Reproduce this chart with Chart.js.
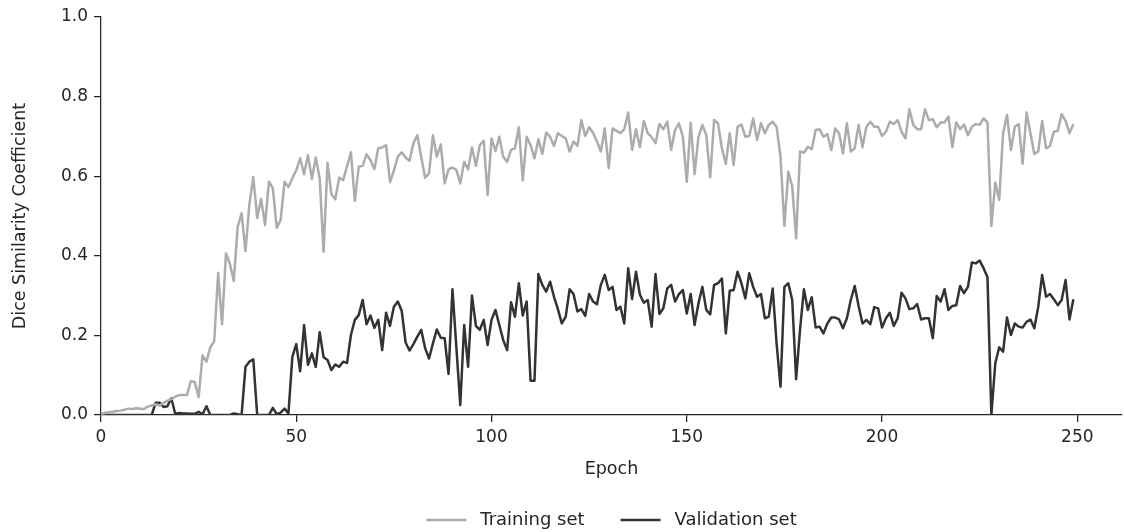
<!DOCTYPE html>
<html>
<head>
<meta charset="utf-8">
<script src="https://cdn.jsdelivr.net/npm/chart.js@4"></script>
<style>
  html, body { margin: 0; padding: 0; background: #fff; }
</style>
</head>
<body>
<canvas id="diceChart" width="1124" height="532"></canvas>
<script>
// epochs 0..249
const epochs = Array.from({ length: 250 }, (_, i) => i);

const trainingDice = [
  0.003, 0.005, 0.007, 0.008, 0.010, 0.011, 0.013, 0.016, 0.015, 0.017,
  0.016, 0.015, 0.021, 0.024, 0.027, 0.024, 0.030, 0.036, 0.040, 0.046,
  0.050, 0.050, 0.050, 0.085, 0.083, 0.045, 0.150, 0.134, 0.170, 0.186,
  0.357, 0.228, 0.406, 0.380, 0.337, 0.473, 0.507, 0.412, 0.530, 0.598,
  0.495, 0.543, 0.477, 0.586, 0.570, 0.470, 0.490, 0.586, 0.573, 0.595,
  0.615, 0.645, 0.605, 0.653, 0.593, 0.647, 0.594, 0.410, 0.634, 0.555,
  0.542, 0.597, 0.590, 0.625, 0.660, 0.538, 0.624, 0.626, 0.655, 0.640,
  0.618, 0.670, 0.672, 0.678, 0.585, 0.614, 0.649, 0.660, 0.647, 0.639,
  0.683, 0.703, 0.649, 0.596, 0.607, 0.703, 0.649, 0.680, 0.582, 0.617,
  0.622, 0.616, 0.582, 0.636, 0.617, 0.672, 0.626, 0.678, 0.689, 0.553,
  0.695, 0.663, 0.699, 0.649, 0.636, 0.666, 0.670, 0.723, 0.589, 0.699,
  0.678, 0.645, 0.693, 0.656, 0.710, 0.699, 0.676, 0.708, 0.701, 0.695,
  0.662, 0.687, 0.676, 0.741, 0.701, 0.723, 0.709, 0.687, 0.662, 0.720,
  0.620, 0.720, 0.714, 0.708, 0.718, 0.760, 0.666, 0.718, 0.673, 0.739,
  0.708, 0.699, 0.683, 0.731, 0.718, 0.737, 0.666, 0.716, 0.733, 0.699,
  0.586, 0.734, 0.605, 0.699, 0.729, 0.703, 0.597, 0.741, 0.733, 0.670,
  0.631, 0.708, 0.628, 0.724, 0.730, 0.699, 0.701, 0.745, 0.691, 0.733,
  0.708, 0.729, 0.737, 0.724, 0.649, 0.475, 0.611, 0.574, 0.444, 0.662,
  0.659, 0.674, 0.668, 0.716, 0.718, 0.699, 0.706, 0.666, 0.720, 0.708,
  0.657, 0.733, 0.662, 0.670, 0.729, 0.673, 0.724, 0.737, 0.724, 0.724,
  0.701, 0.712, 0.737, 0.731, 0.741, 0.712, 0.695, 0.768, 0.729, 0.718,
  0.718, 0.768, 0.741, 0.743, 0.723, 0.735, 0.735, 0.750, 0.673, 0.735,
  0.718, 0.730, 0.703, 0.724, 0.731, 0.729, 0.745, 0.735, 0.475, 0.584,
  0.540, 0.708, 0.754, 0.666, 0.724, 0.731, 0.631, 0.760, 0.708, 0.656,
  0.662, 0.739, 0.670, 0.676, 0.712, 0.714, 0.756, 0.739, 0.708, 0.731
];

const validationDice = [
  0.000, 0.000, 0.000, 0.000, 0.000, 0.000, 0.000, 0.000, 0.000, 0.000,
  0.000, 0.000, 0.000, 0.000, 0.031, 0.031, 0.020, 0.022, 0.042, 0.003,
  0.005, 0.004, 0.004, 0.003, 0.003, 0.008, 0.002, 0.022, 0.000, 0.000,
  0.000, 0.000, 0.000, 0.000, 0.004, 0.002, 0.000, 0.121, 0.134, 0.140,
  0.000, 0.000, 0.000, 0.000, 0.018, 0.002, 0.006, 0.016, 0.004, 0.146,
  0.178, 0.110, 0.226, 0.126, 0.155, 0.121, 0.208, 0.145, 0.138, 0.113,
  0.127, 0.121, 0.134, 0.131, 0.201, 0.239, 0.251, 0.289, 0.228, 0.250,
  0.219, 0.239, 0.163, 0.257, 0.224, 0.272, 0.285, 0.262, 0.182, 0.162,
  0.178, 0.197, 0.214, 0.168, 0.142, 0.180, 0.215, 0.194, 0.193, 0.103,
  0.316, 0.170, 0.025, 0.226, 0.121, 0.300, 0.224, 0.214, 0.239, 0.176,
  0.239, 0.264, 0.226, 0.188, 0.163, 0.283, 0.247, 0.331, 0.250, 0.285,
  0.086, 0.086, 0.354, 0.327, 0.310, 0.335, 0.297, 0.266, 0.230, 0.247,
  0.316, 0.304, 0.260, 0.266, 0.249, 0.304, 0.285, 0.278, 0.327, 0.352,
  0.314, 0.322, 0.264, 0.272, 0.230, 0.369, 0.291, 0.360, 0.302, 0.282,
  0.289, 0.222, 0.354, 0.254, 0.268, 0.318, 0.327, 0.285, 0.304, 0.314,
  0.255, 0.304, 0.226, 0.281, 0.322, 0.264, 0.253, 0.327, 0.331, 0.343,
  0.205, 0.312, 0.314, 0.360, 0.331, 0.293, 0.356, 0.322, 0.297, 0.304,
  0.243, 0.247, 0.318, 0.180, 0.071, 0.322, 0.331, 0.289, 0.090, 0.214,
  0.316, 0.264, 0.296, 0.220, 0.222, 0.205, 0.230, 0.245, 0.245, 0.240,
  0.218, 0.243, 0.289, 0.324, 0.274, 0.230, 0.239, 0.228, 0.271, 0.268,
  0.220, 0.243, 0.257, 0.224, 0.243, 0.307, 0.293, 0.266, 0.268, 0.279,
  0.240, 0.243, 0.243, 0.193, 0.299, 0.285, 0.316, 0.264, 0.274, 0.276,
  0.324, 0.306, 0.322, 0.383, 0.381, 0.388, 0.369, 0.346, 0.000, 0.130,
  0.170, 0.159, 0.245, 0.201, 0.230, 0.222, 0.220, 0.234, 0.240, 0.218,
  0.272, 0.352, 0.297, 0.304, 0.291, 0.276, 0.289, 0.339, 0.240, 0.291
];

const xTicks = [0, 50, 100, 150, 200, 250];
const yTicks = [0, 0.2, 0.4, 0.6, 0.8, 1.0];

const ink = '#262626';
const tickFont = { family: 'DejaVu Sans', size: 17 };
const titleFont = { family: 'DejaVu Sans', size: 17.5 };
const legendFont = { family: 'DejaVu Sans', size: 18 };

const series = (label, values, color) => ({
  label: label,
  data: epochs.map((e, i) => ({ x: e, y: values[i] })),
  borderColor: color,
  backgroundColor: color,
  borderWidth: 2.5,
  borderJoinStyle: 'round',
  pointRadius: 0,
  tension: 0
});

// matplotlib-style legend row under the axis title, centred on the plot area
const legendBelow = {
  id: 'legendBelow',
  afterDraw(chart) {
    const { ctx, chartArea } = chart;
    const lineLen = 40, textGap = 14, itemGap = 36;
    const y = chart.height - 12;
    ctx.save();
    ctx.font = legendFont.size + 'px "' + legendFont.family + '"';
    ctx.textBaseline = 'middle';
    const sets = chart.data.datasets;
    const widths = sets.map(d => lineLen + textGap + ctx.measureText(d.label).width);
    const total = widths.reduce((a, b) => a + b, 0) + itemGap * (sets.length - 1);
    let x = (chartArea.left + chartArea.right) / 2 - total / 2;
    sets.forEach((d, i) => {
      ctx.strokeStyle = d.borderColor;
      ctx.lineWidth = d.borderWidth;
      ctx.beginPath();
      ctx.moveTo(x, y);
      ctx.lineTo(x + lineLen, y);
      ctx.stroke();
      ctx.fillStyle = ink;
      ctx.fillText(d.label, x + lineLen + textGap, y);
      x += widths[i] + itemGap;
    });
    ctx.restore();
  }
};

new Chart(document.getElementById('diceChart'), {
  type: 'line',
  data: {
    datasets: [
      series('Training set', trainingDice, '#acacac'),
      series('Validation set', validationDice, '#333333')
    ]
  },
  options: {
    responsive: false,
    animation: false,
    devicePixelRatio: 1,
    layout: { padding: { top: 17, right: 2, left: 0, bottom: 36 } },
    plugins: {
      tooltip: { enabled: false },
      legend: { display: false }
    },
    scales: {
      x: {
        type: 'linear',
        min: 0,
        max: 261.45,
        afterBuildTicks: s => { s.ticks = xTicks.map(v => ({ value: v })); },
        afterFit: s => { s.height = 81; },
        ticks: { color: ink, font: tickFont, padding: 5, maxRotation: 0 },
        grid: { drawOnChartArea: false, tickLength: 7, color: ink, lineWidth: 1.25 },
        border: { color: ink, width: 1.25 },
        title: { display: true, text: 'Epoch', color: ink, font: titleFont, padding: { top: 0, bottom: 16.5 } }
      },
      y: {
        min: 0,
        max: 1,
        afterBuildTicks: s => { s.ticks = yTicks.map(v => ({ value: v })); },
        afterFit: s => { s.width = 101; },
        ticks: { color: ink, font: tickFont, padding: 6, callback: v => v.toFixed(1) },
        grid: { drawOnChartArea: false, tickLength: 7, color: ink, lineWidth: 1.25 },
        border: { color: ink, width: 1.25 },
        title: { display: true, text: 'Dice Similarity Coefficient', color: ink, font: titleFont, padding: { top: 9.5, bottom: 0 } }
      }
    }
  },
  plugins: [legendBelow]
});
</script>
</body>
</html>
